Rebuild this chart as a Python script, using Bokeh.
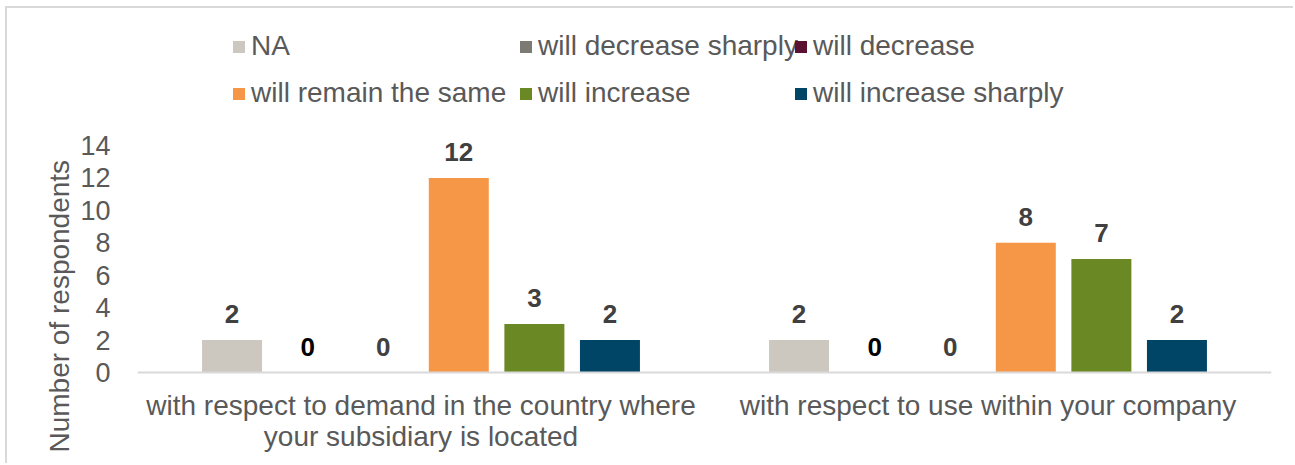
from bokeh.plotting import figure
from bokeh.models import (ColumnDataSource, FactorRange, Range1d, FixedTicker, LabelSet,
                          Legend, LegendItem, Title, Span)
from bokeh.core.properties import value
from bokeh.transform import dodge
from bokeh.embed import file_html
from bokeh.resources import INLINE

categories = ["with respect to demand in the country where\nyour subsidiary is located",
              "with respect to use within your company"]
series = ["NA", "will decrease sharply", "will decrease",
          "will remain the same", "will increase", "will increase sharply"]
na = [2, 2]
decrease_sharply = [0, 0]
decrease = [0, 0]
remain_same = [12, 8]
increase = [3, 7]
increase_sharply = [2, 2]
values = [na, decrease_sharply, decrease, remain_same, increase, increase_sharply]
colors = ["#ccc8c0", "#7b7b74", "#5b1131", "#f69647", "#6a8823", "#004566"]
label_colors = ["#404040", "#000000", "#404040", "#404040", "#404040", "#404040"]
y_ticks = [0, 2, 4, 6, 8, 10, 12, 14]
y_title = "Number of respondents"

FONT = "Liberation Sans"
TXT = "#595959"

p = figure(width=1288, height=457, x_range=FactorRange(*categories, range_padding=0),
           y_range=Range1d(-4.93, 22.2), output_backend="svg", toolbar_location=None,
           x_axis_location=None,
           min_border_left=130, min_border_right=24, min_border_top=4, min_border_bottom=13,
           margin=(6, 0, 0, 5),
           styles={"border-top": "2px solid #d9d9d9", "border-left": "2px solid #d9d9d9"})
p.outline_line_color = None
p.grid.grid_line_color = None

step = 0.1333
bw = 0.1058
renderers = []
for i, (name, vals, col, lc) in enumerate(zip(series, values, colors, label_colors)):
    src = ColumnDataSource(dict(cat=categories, v=vals, t=[str(v) for v in vals]))
    off = (i - 2.5) * step
    r = p.vbar(x=dodge("cat", off, range=p.x_range), top="v", width=bw, source=src,
               fill_color=col, line_color=None)
    renderers.append(r)
    ls = LabelSet(x=dodge("cat", off, range=p.x_range), y="v", text="t", source=src,
                  y_offset=17, text_align="center", text_baseline="alphabetic",
                  text_font=value(FONT), text_font_size=value("26px"),
                  text_font_style="bold", text_color=lc)
    p.add_layout(ls)

# x axis line and category labels
p.add_layout(Span(location=0, dimension="width", line_color="#d9d9d9", line_width=2))
cat_src = ColumnDataSource(dict(cat=categories))
p.text(x="cat", y=0, text="cat", source=cat_src, y_offset=17,
       text_align="center", text_baseline="top", text_line_height=1.0,
       text_font=value(FONT), text_font_size=value("28px"), text_color=TXT)

# y axis
p.yaxis.ticker = FixedTicker(ticks=y_ticks)
p.yaxis.axis_line_color = None
p.yaxis.major_tick_line_color = None
p.yaxis.minor_tick_line_color = None
p.yaxis.major_label_standoff = 21
p.yaxis.major_label_text_font = FONT
p.yaxis.major_label_text_font_size = "27px"
p.yaxis.major_label_text_color = TXT

p.add_layout(Title(text=y_title, align="left", standoff=6,
                   text_font=FONT, text_font_size="28px", text_font_style="normal",
                   text_color=TXT), "left")

# legends: three columns of two rows
cols = [(0, 3, 94), (1, 4, 381), (2, 5, 656)]
for a, b, x in cols:
    items = [LegendItem(label=series[a], renderers=[renderers[a]]),
             LegendItem(label=series[b], renderers=[renderers[b]])]
    lg = Legend(items=items, location=(x, 343), orientation="vertical",
                glyph_width=15, glyph_height=15, label_standoff=5, spacing=15,
                padding=0, margin=0, border_line_color=None, background_fill_alpha=0,
                label_text_font=FONT, label_text_font_size="28px", label_text_color=TXT)
    p.add_layout(lg, "center")

open("out.html", "w").write(file_html(p, INLINE))
